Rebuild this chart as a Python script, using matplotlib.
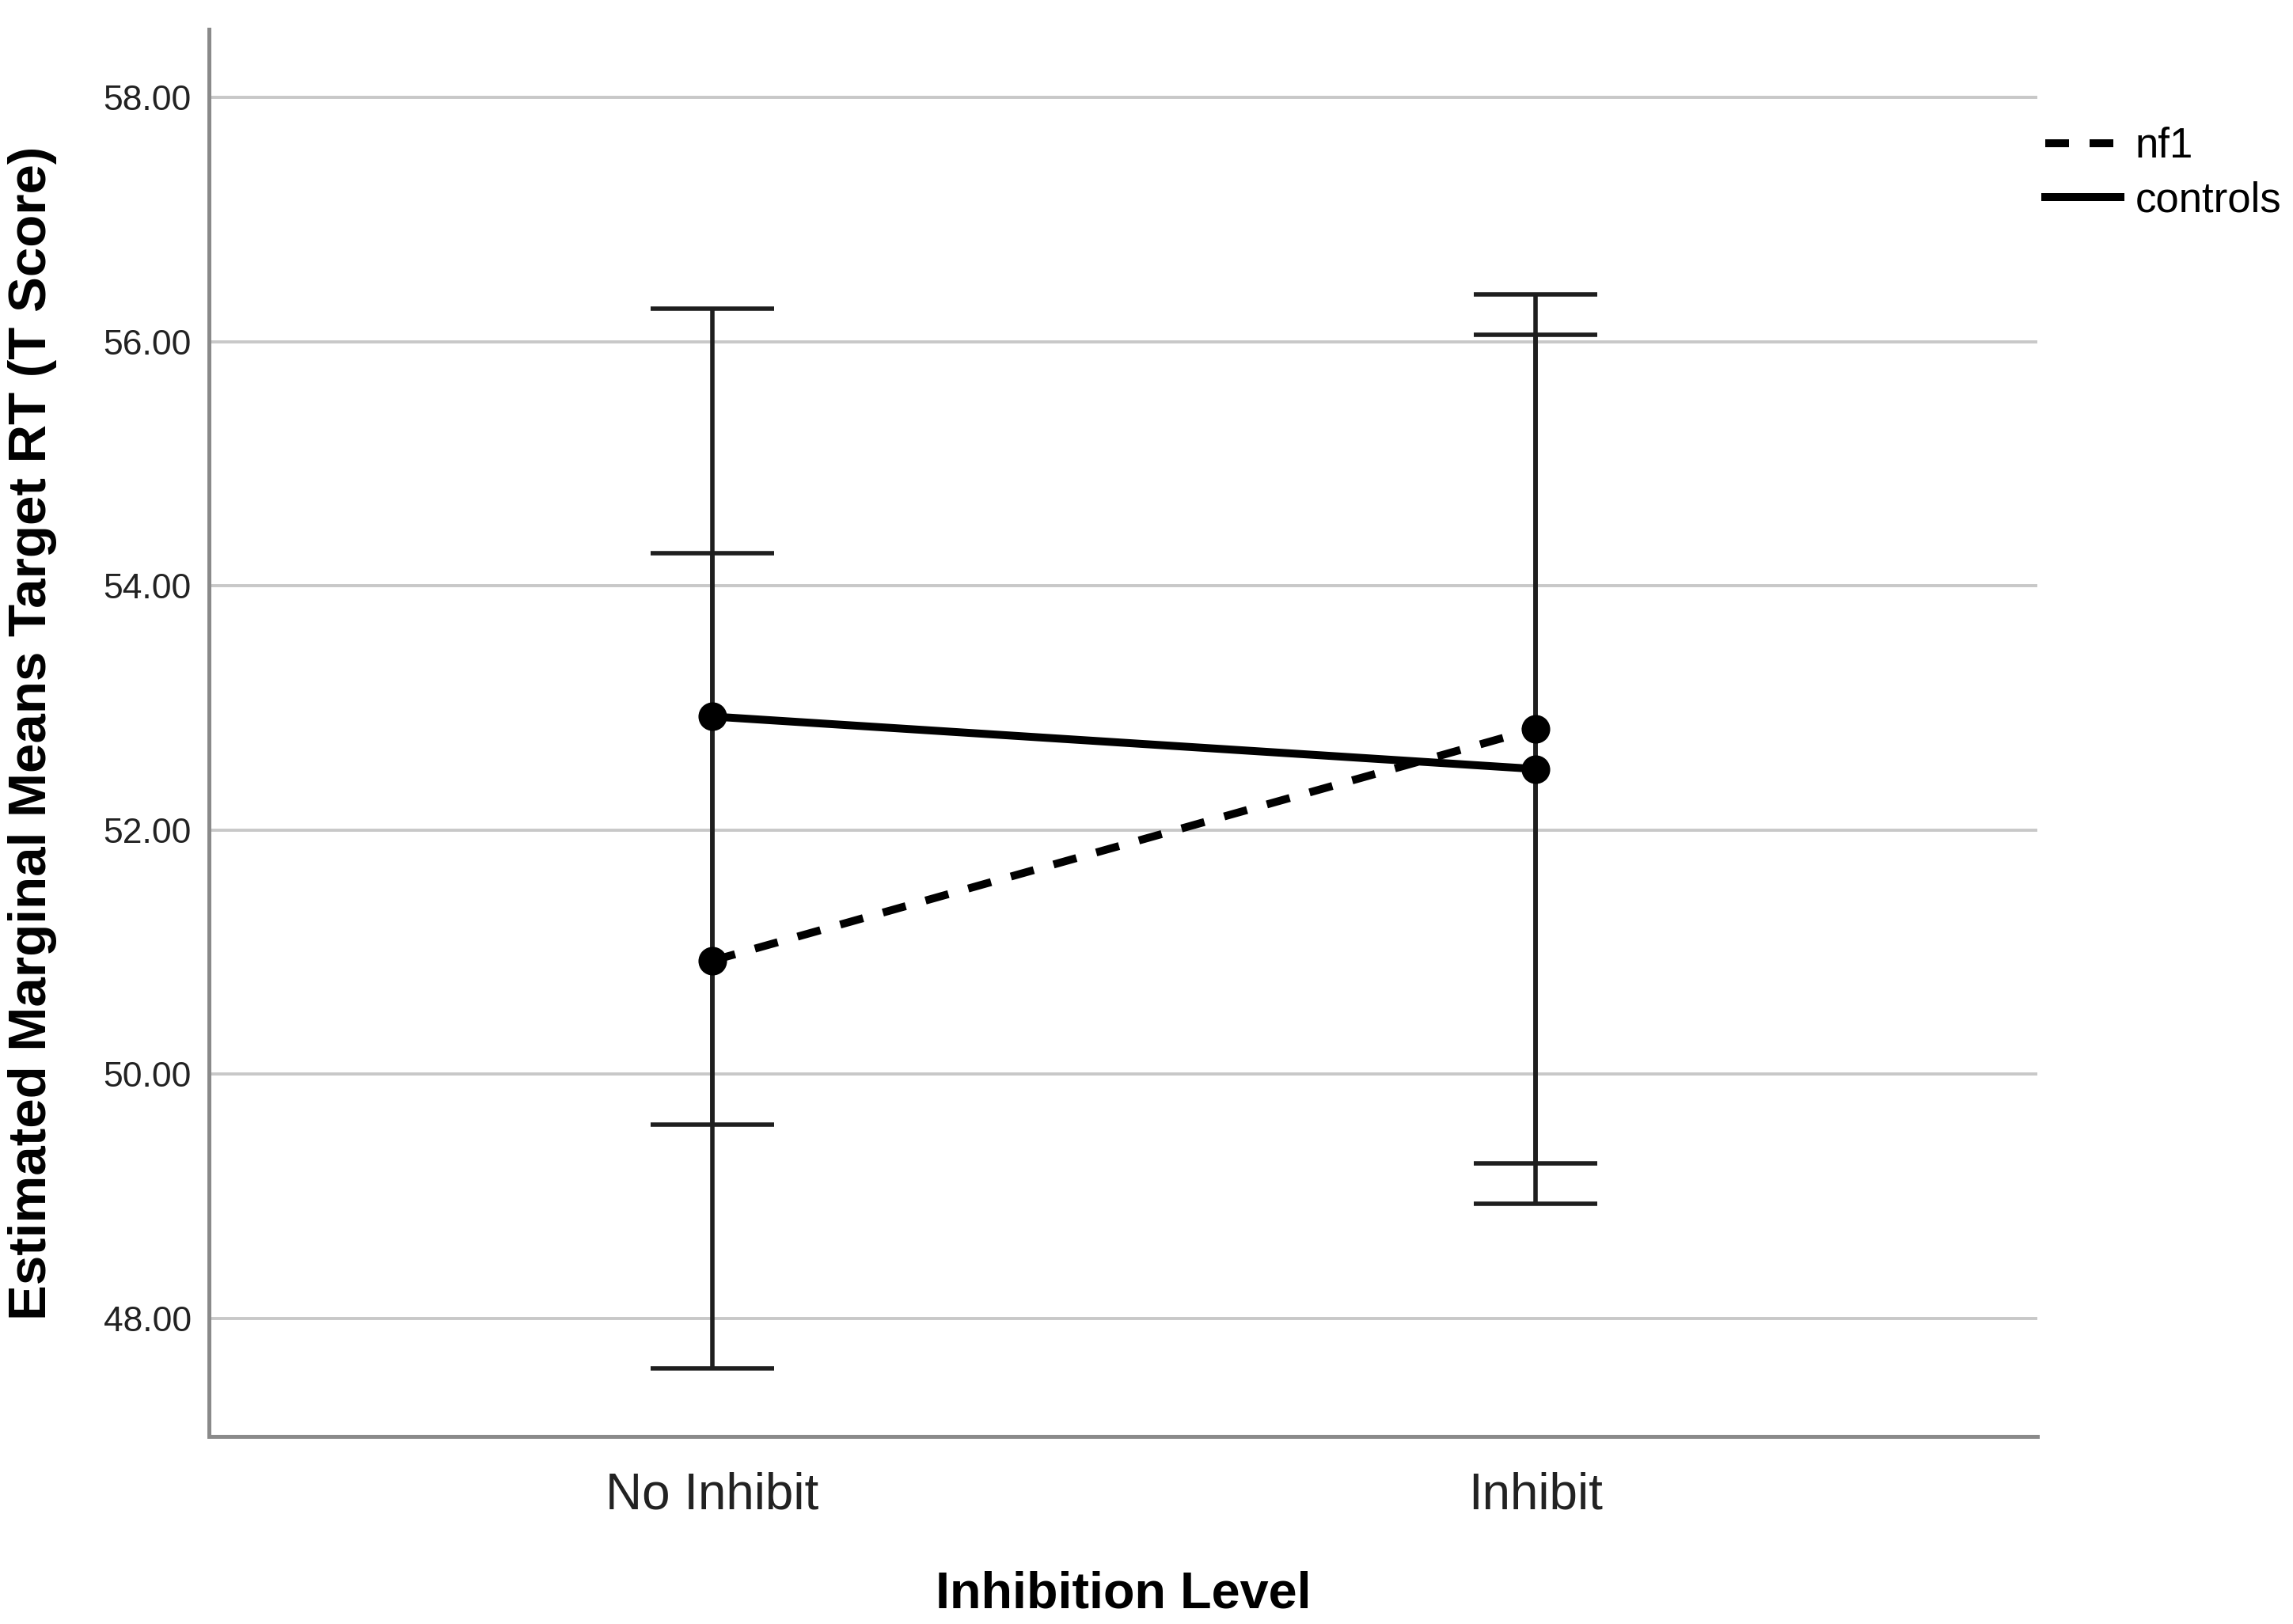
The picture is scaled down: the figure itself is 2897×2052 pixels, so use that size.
import matplotlib
matplotlib.use("Agg")
import matplotlib.pyplot as plt
from matplotlib.lines import Line2D
import numpy as np

plt.rcParams["font.family"] = ["Liberation Sans", "DejaVu Sans"]

# estimated marginal means
levels = ["No Inhibit", "Inhibit"]
nf1_mean = [50.93, 52.83]
nf1_err = [3.34, 3.56]
controls_mean = [52.93, 52.50]
controls_err = [3.34, 3.56]

x = np.arange(len(levels))

fig = plt.figure(figsize=(14.485, 10.26), dpi=200)
ax = fig.add_axes([0.0912, 0.1153, 0.7972, 0.8667])

# error bars first (thin), then the mean lines on top
for mean, err in ((nf1_mean, nf1_err), (controls_mean, controls_err)):
    ax.errorbar(x, mean, yerr=err, fmt="none", ecolor="#1e1e1e",
                elinewidth=2.0, capsize=28, capthick=2.0, zorder=3)

ax.plot(x, nf1_mean, color="black", lw=3.6, dashes=(3, 2.6),
        dash_capstyle="butt", marker="o", ms=12, zorder=4)
ax.plot(x, controls_mean, color="black", lw=3.6, marker="o", ms=12, zorder=4)

ax.set_xlim(-0.611, 1.609)
ax.set_ylim(47.03, 58.56)
ax.set_yticks(np.arange(48, 58.01, 2))
ax.set_yticklabels([f"{v:.2f}" for v in np.arange(48, 58.01, 2)])
ax.set_xticks(x)
ax.set_xticklabels(levels)

ax.grid(axis="y", color="#c8c8c8", lw=1.4, zorder=0)
ax.set_axisbelow(True)
for side in ("top", "right"):
    ax.spines[side].set_visible(False)
for side in ("left", "bottom"):
    ax.spines[side].set_color("#8a8a8a")
    ax.spines[side].set_linewidth(1.8)

ax.tick_params(axis="y", length=0, pad=8, labelsize=16, labelcolor="#222222")
ax.tick_params(axis="x", length=0, pad=16, labelsize=23, labelcolor="#222222")

ax.set_xlabel("Inhibition Level", fontsize=23.3, fontweight="bold")
ax.xaxis.label.set_va("center")
ax.xaxis.set_label_coords(0.5, -0.112)
ax.set_ylabel("Estimated Marginal Means Target RT (T Score)", fontsize=24.2,
              fontweight="bold")
ax.yaxis.label.set_va("center")
ax.yaxis.set_label_coords(-0.0968, 0.5)

# legend shows line style only, no markers
handles = [
    Line2D([], [], color="black", lw=3.6, dashes=(3, 2.6), dash_capstyle="butt"),
    Line2D([], [], color="black", lw=3.6),
]
fig.legend(handles, ["nf1", "controls"], loc="upper left",
           bbox_to_anchor=(0.892, 0.922), frameon=False, fontsize=19,
           handlelength=1.8, handletextpad=0.35, labelspacing=0.35,
           borderpad=0, borderaxespad=0)

fig.savefig("out.png", dpi=200, facecolor="white")
